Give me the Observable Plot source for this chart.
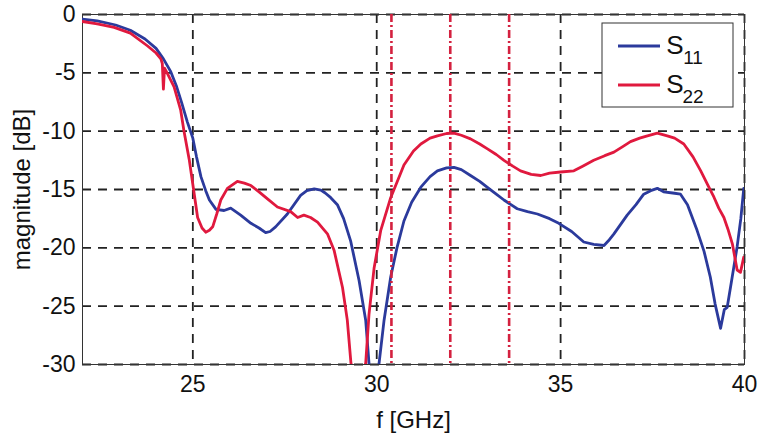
<!DOCTYPE html>
<html>
<head>
<meta charset="utf-8">
<script src="https://cdn.jsdelivr.net/npm/d3@7"></script>
<script src="https://cdn.jsdelivr.net/npm/@observablehq/plot@0.6"></script>
<style>
  html, body { margin: 0; padding: 0; background: #fff; }
  svg { display: block; }
</style>
</head>
<body>
<div id="chart"></div>
<script>
// ---- data ----
const s11Freq = [22.0,22.4,22.9,23.3,23.7,24.0,24.2,24.4,24.55,24.7,24.85,25.0,25.1,25.22,25.35,25.45,25.63,25.85,26.03,26.3,26.58,26.8,26.98,27.1,27.25,27.57,27.93,28.1,28.3,28.48,28.6,28.75,28.93,29.1,29.29,29.52,29.7,29.79,29.9,30.06,30.2,30.38,30.55,30.74,30.95,31.2,31.45,31.65,31.9,32.1,32.3,32.55,32.8,33.0,33.25,33.46,33.65,33.82,34.1,34.37,34.7,34.95,35.3,35.63,35.9,36.18,36.3,36.45,36.81,37.05,37.26,37.45,37.63,37.8,38.05,38.26,38.45,38.71,38.9,39.07,39.2,39.35,39.45,39.53,39.65,39.8,39.9,39.98];
const s11Db = [-0.4,-0.55,-0.9,-1.35,-2.1,-2.9,-3.8,-4.9,-6.1,-7.6,-9.2,-10.6,-12.2,-13.9,-15.1,-15.9,-16.7,-16.8,-16.6,-17.2,-17.9,-18.3,-18.7,-18.6,-18.2,-17.1,-15.5,-15.1,-14.95,-15.05,-15.3,-15.7,-16.3,-17.5,-19.4,-22.8,-26.2,-29.9,-34,-30,-26.2,-22.5,-20,-17.7,-16.1,-14.8,-13.9,-13.4,-13.15,-13.1,-13.3,-13.8,-14.3,-14.8,-15.4,-15.9,-16.3,-16.65,-16.9,-17.1,-17.5,-17.9,-18.6,-19.5,-19.7,-19.8,-19.4,-18.8,-17.2,-16.3,-15.4,-15.1,-14.9,-15.2,-15.3,-15.4,-16.3,-18.5,-20.3,-22.5,-24.8,-26.9,-25.3,-25.1,-22.8,-19.9,-17.5,-14.9];

const s22Freq = [22.0,22.4,22.86,23.3,23.77,24.0,24.13,24.17,24.2,24.23,24.3,24.49,24.67,24.76,24.9,25.02,25.13,25.25,25.35,25.45,25.54,25.65,25.76,25.94,26.21,26.4,26.58,26.8,27.03,27.3,27.66,27.85,28.02,28.2,28.39,28.55,28.66,28.84,29.07,29.2,29.3,29.5,29.7,29.79,29.93,30.11,30.38,30.65,30.74,31.0,31.2,31.45,31.65,31.9,32.1,32.3,32.55,32.8,33.0,33.25,33.46,33.7,33.91,34.2,34.46,34.7,35.0,35.36,35.6,35.9,36.2,36.45,36.7,36.9,37.15,37.36,37.63,37.9,38.1,38.35,38.6,38.81,39.0,39.17,39.3,39.44,39.55,39.67,39.8,39.89,39.98];
const s22Db = [-0.6,-0.8,-1.1,-1.6,-2.7,-3.3,-3.8,-4.2,-6.4,-4.6,-5.0,-6.2,-8.2,-10.0,-12.4,-15.0,-17.4,-18.3,-18.66,-18.5,-18.2,-17.1,-15.9,-14.9,-14.3,-14.45,-14.66,-15.2,-15.8,-16.5,-16.9,-17.4,-17.2,-17.4,-17.8,-18.4,-18.8,-20.2,-23.4,-26.2,-29.9,-34,-29.9,-25.7,-21.7,-18.5,-15.7,-13.6,-12.9,-11.7,-11.1,-10.6,-10.4,-10.2,-10.17,-10.35,-10.66,-11.1,-11.5,-12.0,-12.5,-13.0,-13.4,-13.7,-13.8,-13.6,-13.5,-13.4,-13.0,-12.5,-12.1,-11.8,-11.3,-10.9,-10.6,-10.4,-10.17,-10.4,-10.6,-11.1,-12.2,-13.4,-14.6,-15.66,-16.6,-17.4,-18.4,-19.66,-21.9,-22.1,-20.8];

const markerFreqs = [30.4, 32.0, 33.6];
const xTicks = [25, 30, 35, 40];
const xGrid = [25, 30, 35, 40];
const yTicks = [0, -5, -10, -15, -20, -25, -30];
const seriesNames = ["S11", "S22"];

const s11 = s11Freq.map((f, i) => ({f, db: s11Db[i]}));
const s22 = s22Freq.map((f, i) => ({f, db: s22Db[i]}));

const BLUE = "#2b3a9c";
const RED = "#e0193e";
const FONT = "'Liberation Sans', Arial, sans-serif";

const chart = Plot.plot({
  width: 762,
  height: 434,
  marginLeft: 82,
  marginRight: 18,
  marginTop: 14,
  marginBottom: 70,
  style: {fontFamily: FONT, fontSize: "23px", color: "#111", background: "#fff"},
  x: {domain: [22, 40]},
  y: {domain: [-30, 0]},
  marks: [
    Plot.gridX(xGrid, {stroke: "#222", strokeOpacity: 1, strokeWidth: 1.8, strokeDasharray: "9,7"}),
    Plot.gridY(yTicks, {stroke: "#222", strokeOpacity: 1, strokeWidth: 1.8, strokeDasharray: "9,7"}),
    Plot.frame({stroke: "#333", strokeWidth: 1}),
    Plot.line(s11, {x: "f", y: "db", stroke: BLUE, strokeWidth: 2.8, clip: true}),
    Plot.line(s22, {x: "f", y: "db", stroke: RED, strokeWidth: 2.8, clip: true}),
    Plot.ruleX(markerFreqs, {stroke: "#d4213f", strokeWidth: 2.6, strokeDasharray: "8,3,2,3"}),
    Plot.axisX({ticks: xTicks, tickSize: 0, tickPadding: 11, fontSize: 23, tickFormat: d => String(d),
      label: "f [GHz]", labelAnchor: "center", labelArrow: "none", labelOffset: 63}),
    Plot.axisY({ticks: yTicks, tickSize: 0, tickPadding: 7, fontSize: 23, tickFormat: d => String(d),
      label: "magnitude [dB]", labelAnchor: "center", labelArrow: "none", labelOffset: 70})
  ]
});

document.getElementById("chart").appendChild(chart);

// enlarge the axis titles a little, as in the reference
const svg = d3.select(chart);
svg.selectAll('g[aria-label="x-axis label"], g[aria-label="y-axis label"]').attr("font-size", 24);

// ---- legend ----
const lg = svg.append("g").attr("font-family", FONT).attr("fill", "#111");
lg.append("rect").attr("x", 602).attr("y", 23).attr("width", 131).attr("height", 84)
  .attr("fill", "#fff").attr("stroke", "#333").attr("stroke-width", 1);
const colors = [BLUE, RED];
const rowY = [46, 85];
seriesNames.forEach((name, i) => {
  lg.append("line").attr("x1", 618).attr("x2", 660).attr("y1", rowY[i]).attr("y2", rowY[i])
    .attr("stroke", colors[i]).attr("stroke-width", 3);
  lg.append("text").attr("x", 675).attr("y", rowY[i] + 8).attr("font-size", 26).text(name.slice(0, 1));
  lg.append("text").attr("x", 693).attr("y", rowY[i] + 18).attr("font-size", 19).text(name.slice(1));
});
</script>
</body>
</html>
